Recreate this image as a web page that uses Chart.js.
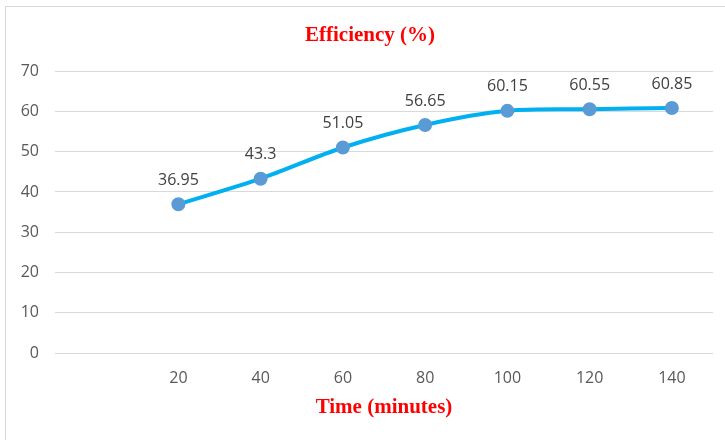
<!DOCTYPE html>
<html>
<head>
<meta charset="utf-8">
<script src="https://cdn.jsdelivr.net/npm/chart.js@4.4.0/dist/chart.umd.min.js"></script>
<style>
  html, body { margin: 0; padding: 0; background: #fff; }
  #wrap { position: relative; width: 725px; height: 440px; }
  #frame { position: absolute; left: 5px; top: 6px; width: 740px; height: 460px; border: 1px solid #d9d9d9; box-sizing: border-box; pointer-events: none; }
  canvas { position: absolute; left: 0; top: 0; }
</style>
</head>
<body>
<div id="wrap">
  <div id="frame"></div>
  <canvas id="chart" width="725" height="440"></canvas>
</div>
<script>
// Data
const timeLabels = ["", "20", "40", "60", "80", "100", "120", "140"];
const efficiency = [null, 36.95, 43.3, 51.05, 56.65, 60.15, 60.55, 60.85];
const yTicks = [0, 10, 20, 30, 40, 50, 60, 70];
const chartTitle = "Efficiency (%)";

// Draw value labels above each point, and the title a bit right of canvas centre (as in Excel)
const pointLabels = {
  id: "pointLabels",
  afterDatasetsDraw(chart) {
    const ctx = chart.ctx;
    const meta = chart.getDatasetMeta(0);
    ctx.save();
    ctx.font = "16px 'Open Sans', sans-serif";
    ctx.fillStyle = "#404040";
    ctx.textAlign = "center";
    ctx.textBaseline = "middle";
    meta.data.forEach((pt, i) => {
      const v = efficiency[i];
      if (v == null) return;
      ctx.fillText(String(v), pt.x, pt.y - 24);
    });

    const tb = chart.titleBlock;
    ctx.font = "bold 21px 'Liberation Serif', serif";
    ctx.fillStyle = "#FF0000";
    ctx.fillText(chartTitle, (chart.chartArea.left + chart.width) / 2 - 20, tb.top + 23 + 12.6);
    ctx.restore();
  }
};

new Chart(document.getElementById("chart"), {
  type: "line",
  data: {
    labels: timeLabels,
    datasets: [{
      data: efficiency,
      borderColor: "#00B0F0",
      borderWidth: 4,
      backgroundColor: "#5B9BD5",
      pointBackgroundColor: "#5B9BD5",
      pointBorderColor: "#5B9BD5",
      pointRadius: 5,
      tension: 0.3,
      fill: false
    }]
  },
  options: {
    responsive: false,
    animation: false,
    layout: { padding: { left: 0, right: 12, top: 0, bottom: 0 } },
    plugins: {
      legend: { display: false },
      tooltip: { enabled: false },
      title: {
        display: true,
        text: chartTitle,
        color: "rgba(0,0,0,0)",
        font: { family: "'Liberation Serif', serif", size: 21, weight: "bold" },
        padding: { top: 23, bottom: 23 }
      }
    },
    scales: {
      x: {
        offset: true,
        afterFit(scale) { scale.height = 87; },
        grid: { display: false, drawTicks: false },
        border: { display: false },
        ticks: {
          color: "#595959",
          font: { family: "'Open Sans', sans-serif", size: 16 },
          padding: 16,
          maxRotation: 0
        },
        title: {
          display: true,
          text: "Time (minutes)",
          color: "#FF0000",
          font: { family: "'Liberation Serif', serif", size: 21, weight: "bold" },
          padding: { top: 6, bottom: 20 }
        }
      },
      y: {
        min: 0,
        max: 70,
        afterBuildTicks(scale) {
          scale.ticks = yTicks.map(v => ({ value: v }));
        },
        afterFit(scale) { scale.width = 55; },
        grid: { color: "#d9d9d9", lineWidth: 1, drawTicks: false },
        border: { display: false },
        ticks: {
          color: "#595959",
          font: { family: "'Open Sans', sans-serif", size: 16 },
          padding: 16
        }
      }
    }
  },
  plugins: [pointLabels]
});
</script>
</body>
</html>
